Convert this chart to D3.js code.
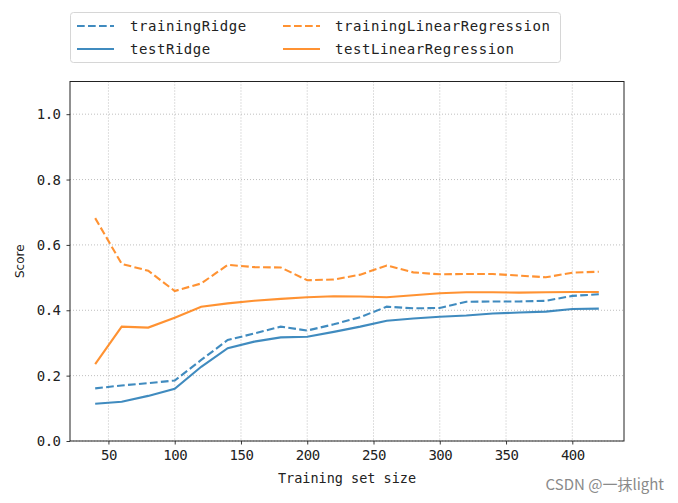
<!DOCTYPE html>
<html><head><meta charset="utf-8">
<script src="https://cdn.jsdelivr.net/npm/d3@7"></script>
<style>
body{margin:0;background:#fff;}
svg{display:block;}
</style></head>
<body>
<svg id="chart" width="678" height="503"></svg>
<script>
const sizes = [40,60,80,100,120,140,160,180,200,220,240,260,280,300,320,340,360,380,400,420];
const trainingRidge = [0.161,0.170,0.177,0.185,0.248,0.309,0.329,0.350,0.338,0.357,0.379,0.411,0.406,0.407,0.426,0.427,0.427,0.429,0.444,0.449];
const testRidge = [0.114,0.120,0.138,0.160,0.227,0.284,0.304,0.317,0.319,0.334,0.350,0.368,0.375,0.380,0.384,0.390,0.393,0.396,0.404,0.405];
const trainingLinearRegression = [0.682,0.542,0.521,0.459,0.482,0.539,0.532,0.531,0.492,0.494,0.509,0.537,0.516,0.510,0.511,0.511,0.506,0.501,0.515,0.518];
const testLinearRegression = [0.235,0.350,0.347,0.377,0.411,0.421,0.429,0.435,0.440,0.443,0.442,0.440,0.446,0.452,0.455,0.455,0.454,0.455,0.456,0.456];
const xTicks = [50,100,150,200,250,300,350,400];
const yTicks = [0.0,0.2,0.4,0.6,0.8,1.0];
const seriesNames = ["trainingRidge","testRidge","trainingLinearRegression","testLinearRegression"];

const series = [
  {name: seriesNames[0], values: trainingRidge, color: "#1f77b4", dash: "7.7,3.3"},
  {name: seriesNames[1], values: testRidge, color: "#1f77b4", dash: null},
  {name: seriesNames[2], values: trainingLinearRegression, color: "#ff7f0e", dash: "7.7,3.3"},
  {name: seriesNames[3], values: testLinearRegression, color: "#ff7f0e", dash: null}
];

const L = 70, R = 624, T = 81.5, B = 441;
const svg = d3.select("#chart");
const x = d3.scaleLinear().domain([21, 439]).range([L, R]);
const y = d3.scaleLinear().domain([0, 1.1]).range([B, T]);

const mono = "'DejaVu Sans Mono', 'Liberation Mono', monospace";

// grid
const grid = svg.append("g");
grid.selectAll("line.gx").data(xTicks).enter().append("line")
  .attr("x1", d => x(d)).attr("x2", d => x(d)).attr("y1", T).attr("y2", B)
  .attr("stroke", "#b8b8b8").attr("stroke-width", 0.9).attr("stroke-dasharray", "1,2");
grid.selectAll("line.gy").data(yTicks).enter().append("line")
  .attr("x1", L).attr("x2", R).attr("y1", d => y(d)).attr("y2", d => y(d))
  .attr("stroke", "#b8b8b8").attr("stroke-width", 0.9).attr("stroke-dasharray", "1,2");

// lines
const line = d3.line().x((d, i) => x(sizes[i])).y(d => y(d));
series.forEach(s => {
  svg.append("path").datum(s.values)
    .attr("fill", "none").attr("stroke", s.color).attr("stroke-opacity", 0.85)
    .attr("stroke-width", 2.1)
    .attr("stroke-dasharray", s.dash)
    .attr("d", line);
});

// axes
const xAxis = svg.append("g").attr("transform", `translate(0,${B})`)
  .call(d3.axisBottom(x).tickValues(xTicks).tickSize(3.5).tickPadding(6).tickFormat(d3.format("d")));
const yAxis = svg.append("g").attr("transform", `translate(${L},0)`)
  .call(d3.axisLeft(y).tickValues(yTicks).tickSize(3.5).tickPadding(6).tickFormat(d3.format(".1f")));
[xAxis, yAxis].forEach(a => {
  a.select(".domain").remove();
  a.selectAll(".tick line").attr("stroke", "#222").attr("stroke-width", 0.9);
  a.selectAll(".tick text").attr("fill", "#222").style("font-family", mono)
    .style("font-size", "14px").style("letter-spacing", "-0.5px");
});

// frame
svg.append("rect").attr("x", L).attr("y", T).attr("width", R - L).attr("height", B - T)
  .attr("fill", "none").attr("stroke", "#222").attr("stroke-width", 1);

// axis labels
svg.append("text").attr("x", (L + R) / 2).attr("y", 483).attr("text-anchor", "middle")
  .attr("fill", "#222").style("font-family", mono).style("font-size", "13.5px")
  .text("Training set size");
svg.append("text").attr("transform", `translate(24,${(T + B) / 2}) rotate(-90)`)
  .attr("text-anchor", "middle").attr("fill", "#222")
  .style("font-family", "'DejaVu Sans', sans-serif").style("font-size", "12px")
  .text("Score");

// legend
const lg = svg.append("g");
lg.append("rect").attr("x", 70.5).attr("y", 12.5).attr("width", 490).attr("height", 50)
  .attr("rx", 3).attr("fill", "#fff").attr("fill-opacity", 0.8)
  .attr("stroke", "#d6d6d6").attr("stroke-width", 1);
const lpos = [
  {hx: 77, tx: 130, yy: 26},
  {hx: 77, tx: 130, yy: 49},
  {hx: 283, tx: 335, yy: 26},
  {hx: 283, tx: 335, yy: 49}
];
series.forEach((s, i) => {
  const p = lpos[i];
  lg.append("line").attr("x1", p.hx).attr("x2", p.hx + 37).attr("y1", p.yy).attr("y2", p.yy)
    .attr("stroke", s.color).attr("stroke-opacity", 0.85).attr("stroke-width", 2.1)
    .attr("stroke-dasharray", s.dash);
  lg.append("text").attr("x", p.tx).attr("y", p.yy).attr("dy", "0.35em")
    .attr("fill", "#222").style("font-family", mono).style("font-size", "14px")
    .style("letter-spacing", "0.55px").text(s.name);
});

// watermark
svg.append("text").attr("x", 664).attr("y", 490).attr("text-anchor", "end")
  .attr("fill", "#8a8a8a").style("font-family", "'Noto Sans CJK SC', 'Noto Sans', sans-serif")
  .style("font-size", "15px").text("CSDN @一抹light");
</script>
</body></html>
